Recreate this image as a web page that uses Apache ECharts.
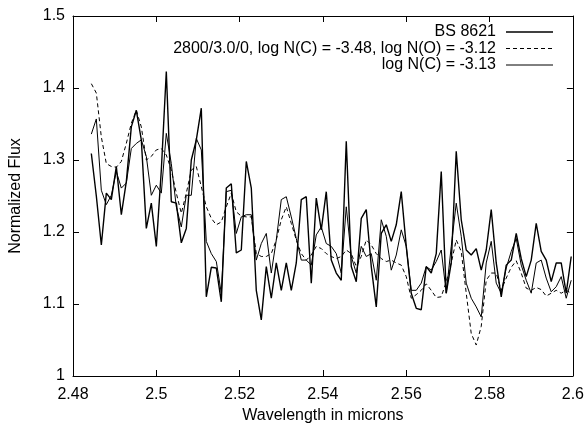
<!DOCTYPE html>
<html>
<head>
<meta charset="utf-8">
<script src="https://cdn.jsdelivr.net/npm/echarts@6/dist/echarts.min.js"></script>
<style>
html,body{margin:0;padding:0;background:#fff;}
#chart{width:587px;height:429px;}
</style>
</head>
<body>
<div id="chart"></div>
<script>
var wavelengths = [
2.4844,2.4856,2.4868,2.4880,2.4892,2.4904,2.4916,2.4928,2.4940,2.4952,
2.4964,2.4976,2.4988,2.5000,2.5012,2.5024,2.5036,2.5048,2.5060,2.5072,
2.5084,2.5096,2.5108,2.5120,2.5132,2.5144,2.5156,2.5168,2.5180,2.5192,
2.5204,2.5216,2.5228,2.5240,2.5252,2.5264,2.5276,2.5288,2.5300,2.5312,
2.5324,2.5336,2.5348,2.5360,2.5372,2.5384,2.5396,2.5408,2.5420,2.5432,
2.5444,2.5456,2.5468,2.5480,2.5492,2.5504,2.5516,2.5528,2.5540,2.5552,
2.5564,2.5576,2.5588,2.5600,2.5612,2.5624,2.5636,2.5648,2.5660,2.5672,
2.5684,2.5696,2.5708,2.5720,2.5732,2.5744,2.5756,2.5768,2.5780,2.5792,
2.5804,2.5816,2.5828,2.5840,2.5852,2.5864,2.5876,2.5888,2.5900,2.5912,
2.5924,2.5936,2.5948,2.5960,2.5972,2.5984,2.5996
];
var bs8621 = [
1.309,1.250,1.182,1.254,1.245,1.291,1.224,1.270,1.346,1.369,
1.328,1.205,1.240,1.180,1.286,1.423,1.242,1.240,1.185,1.205,
1.300,1.328,1.372,1.110,1.151,1.150,1.103,1.261,1.267,1.171,
1.175,1.298,1.261,1.119,1.078,1.152,1.108,1.157,1.119,1.157,
1.119,1.157,1.245,1.249,1.129,1.247,1.203,1.256,1.161,1.143,
1.133,1.326,1.152,1.131,1.219,1.231,1.152,1.096,1.198,1.210,
1.187,1.210,1.256,1.180,1.115,1.094,1.092,1.152,1.143,1.170,
1.284,1.115,1.157,1.312,1.217,1.175,1.168,1.177,1.147,1.175,
1.231,1.157,1.110,1.154,1.161,1.198,1.163,1.138,1.161,1.212,
1.173,1.161,1.131,1.157,1.157,1.115,1.166
];
var modelCO = [
1.406,1.393,1.332,1.295,1.291,1.290,1.298,1.323,1.351,1.369,
1.346,1.300,1.305,1.314,1.316,1.307,1.286,1.254,1.226,1.254,
1.286,1.291,1.263,1.235,1.219,1.210,1.214,1.235,1.254,1.228,
1.222,1.221,1.221,1.170,1.166,1.166,1.170,1.189,1.217,1.235,
1.212,1.189,1.170,1.161,1.168,1.180,1.177,1.170,1.166,1.163,
1.166,1.175,1.170,1.152,1.166,1.189,1.182,1.170,1.163,1.159,
1.161,1.157,1.154,1.138,1.108,1.113,1.119,1.128,1.119,1.109,
1.110,1.131,1.157,1.189,1.173,1.115,1.059,1.043,1.069,1.133,
1.143,1.143,1.119,1.136,1.151,1.160,1.143,1.122,1.119,1.123,
1.120,1.111,1.115,1.119,1.115,1.119,1.115
];
var modelC = [
1.336,1.357,1.258,1.238,1.251,1.284,1.261,1.268,1.316,1.323,
1.328,1.305,1.251,1.265,1.254,1.337,1.295,1.235,1.207,1.251,
1.251,1.330,1.314,1.187,1.170,1.159,1.115,1.256,1.258,1.198,
1.221,1.224,1.224,1.161,1.184,1.198,1.143,1.189,1.245,1.249,
1.221,1.191,1.161,1.161,1.154,1.196,1.207,1.184,1.180,1.170,
1.143,1.235,1.166,1.143,1.180,1.166,1.170,1.133,1.217,1.194,
1.147,1.168,1.203,1.180,1.119,1.119,1.129,1.152,1.147,1.159,
1.175,1.115,1.180,1.240,1.194,1.129,1.108,1.096,1.082,1.157,
1.187,1.129,1.115,1.150,1.173,1.191,1.154,1.133,1.115,1.157,
1.161,1.136,1.117,1.124,1.138,1.108,1.133
];
var xTickLabels = ['2.48','2.5','2.52','2.54','2.56','2.58','2.6'];
var yTickLabels = ['1','1.1','1.2','1.3','1.4','1.5'];
var seriesNames = ['BS 8621','2800/3.0/0, log N(C) = -3.48, log N(O) = -3.12','log N(C) = -3.13'];

function pairs(vals){ return wavelengths.map(function(w,i){ return [w, vals[i]]; }); }

var FONT = '"Liberation Sans", Arial, Helvetica, sans-serif';
var FS = 16;
var chart = echarts.init(document.getElementById('chart'), null, {renderer:'canvas'});
var axisCommon = {
  type:'value',
  axisLine:{show:true, onZero:false, lineStyle:{color:'#000', width:1}},
  axisTick:{show:true, inside:true, length:6, lineStyle:{color:'#000', width:1}},
  splitLine:{show:false}
};

// legend drawn as text + line sample (text right-aligned, sample on the right)
var legendRows = [
  {name:seriesNames[0], dash:null, width:1.4},
  {name:seriesNames[1], dash:[4,3], width:1},
  {name:seriesNames[2], dash:null, width:1}
];
var legendY = [32, 48.5, 65];
var legendGraphics = [];
legendRows.forEach(function(r, k){
  legendGraphics.push({type:'text', silent:true, style:{text:r.name, x:496, y:legendY[k],
    textAlign:'right', textVerticalAlign:'middle', font:FS+'px '+FONT, fill:'#000'}});
  legendGraphics.push({type:'line', silent:true, shape:{x1:506, y1:legendY[k], x2:553, y2:legendY[k]},
    style:{stroke:'#000', lineWidth:r.width, lineDash:r.dash}});
});

chart.setOption({
  animation:false,
  backgroundColor:'#fff',
  grid:{left:73, right:14, top:16, bottom:53, show:false},
  legend:{show:false},
  graphic:legendGraphics,
  xAxis:[
    Object.assign({}, axisCommon, {
      min:2.48, max:2.6, interval:0.02, position:'bottom',
      name:'Wavelength in microns', nameLocation:'middle', nameGap:31,
      nameTextStyle:{fontFamily:FONT, fontSize:FS, color:'#000'},
      axisLabel:{show:true, margin:11, fontFamily:FONT, fontSize:FS, color:'#000',
        formatter:function(v){ var k=Math.round((v-2.48)/0.02); return xTickLabels[k]; }}
    }),
    Object.assign({}, axisCommon, {
      min:2.48, max:2.6, interval:0.02, position:'top', axisLabel:{show:false}
    })
  ],
  yAxis:[
    Object.assign({}, axisCommon, {
      min:1, max:1.5, interval:0.1, position:'left',
      name:'Normalized Flux', nameLocation:'middle', nameGap:49, nameRotate:90,
      nameTextStyle:{fontFamily:FONT, fontSize:FS, color:'#000'},
      axisLabel:{show:true, margin:8, fontFamily:FONT, fontSize:FS, color:'#000',
        formatter:function(v){ var k=Math.round((v-1)/0.1); return yTickLabels[k]; }}
    }),
    Object.assign({}, axisCommon, {
      min:1, max:1.5, interval:0.1, position:'right', axisLabel:{show:false}
    })
  ],
  series:[
    {name:seriesNames[0], type:'line', data:pairs(bs8621), symbol:'none', showSymbol:false,
     lineStyle:{color:'#000', width:1.4}, itemStyle:{color:'#000'}, z:3},
    {name:seriesNames[1], type:'line', data:pairs(modelCO), symbol:'none', showSymbol:false,
     lineStyle:{color:'#000', width:1, type:[4,3]}, itemStyle:{color:'#000'}, z:2},
    {name:seriesNames[2], type:'line', data:pairs(modelC), symbol:'none', showSymbol:false,
     lineStyle:{color:'#000', width:1}, itemStyle:{color:'#000'}, z:2}
  ]
});
</script>
</body>
</html>
